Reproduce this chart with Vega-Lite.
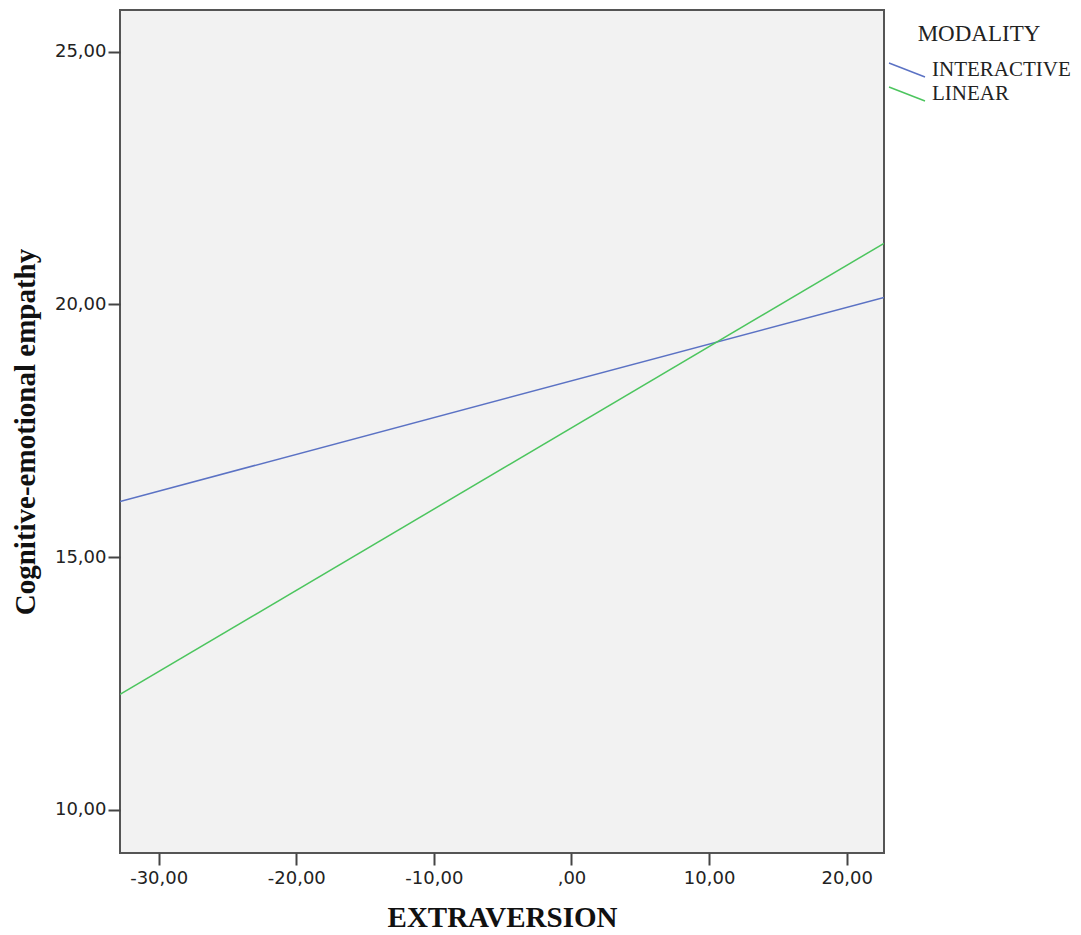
{
  "$schema": "https://vega.github.io/schema/vega-lite/v6.json",
  "autosize": {"type": "none"},
  "width": 764,
  "height": 843,
  "padding": {"left": 120, "top": 10, "right": 197, "bottom": 82},
  "background": "white",
  "config": {
    "view": {"fill": "#f2f2f2", "stroke": "#555555", "strokeWidth": 2},
    "axis": {
      "domain": false,
      "grid": false,
      "ticks": true,
      "tickColor": "#444444",
      "tickWidth": 2,
      "tickSize": 12,
      "labelFont": "DejaVu Sans",
      "labelFontSize": 18,
      "labelColor": "#222222",
      "titleFont": "Liberation Serif",
      "titleFontWeight": "bold",
      "titleFontSize": 29,
      "titleColor": "#111111"
    }
  },
  "data": {
    "values": [
      {"EXTRAVERSION": -32.81, "empathy": 16.10, "MODALITY": "INTERACTIVE"},
      {"EXTRAVERSION": 22.71, "empathy": 20.14, "MODALITY": "INTERACTIVE"},
      {"EXTRAVERSION": -32.81, "empathy": 12.28, "MODALITY": "LINEAR"},
      {"EXTRAVERSION": 22.71, "empathy": 21.21, "MODALITY": "LINEAR"}
    ]
  },
  "mark": {"type": "line", "strokeWidth": 1.5, "clip": true},
  "encoding": {
    "x": {
      "field": "EXTRAVERSION",
      "type": "quantitative",
      "scale": {"domain": [-32.81, 22.71], "nice": false, "zero": false},
      "axis": {
        "title": "EXTRAVERSION",
        "values": [-30, -20, -10, 0, 10, 20],
        "labelPadding": 4,
        "titlePadding": 16,
        "labelExpr": "datum.value == 0 ? ',00' : replace(replace(format(datum.value, '.2f'), '.', ','), '\u2212', '-')"
      }
    },
    "y": {
      "field": "empathy",
      "type": "quantitative",
      "scale": {"domain": [9.14, 25.83], "nice": false, "zero": false},
      "axis": {
        "title": "Cognitive-emotional empathy",
        "values": [10, 15, 20, 25],
        "labelPadding": 2,
        "titlePadding": 14,
        "labelExpr": "replace(format(datum.value, '.2f'), '.', ',')"
      }
    },
    "color": {
      "field": "MODALITY",
      "type": "nominal",
      "scale": {"domain": ["INTERACTIVE", "LINEAR"], "range": ["#5b72c4", "#4cc55e"]},
      "legend": {
        "title": "MODALITY",
        "orient": "none",
        "legendX": 768,
        "legendY": 13,
        "titleFont": "Liberation Serif",
        "titleFontWeight": "normal",
        "titleFontSize": 23,
        "titleColor": "#222222",
        "titleAnchor": "middle",
        "titleAlign": "center",
        "titlePadding": 12,
        "labelFont": "Liberation Serif",
        "labelFontSize": 21,
        "labelColor": "#222222",
        "labelOffset": 6,
        "symbolType": "M-1,-0.39L1,0.39",
        "symbolSize": 1296,
        "symbolStrokeWidth": 1.5,
        "clipHeight": 24,
        "rowPadding": 0
      }
    }
  }
}
